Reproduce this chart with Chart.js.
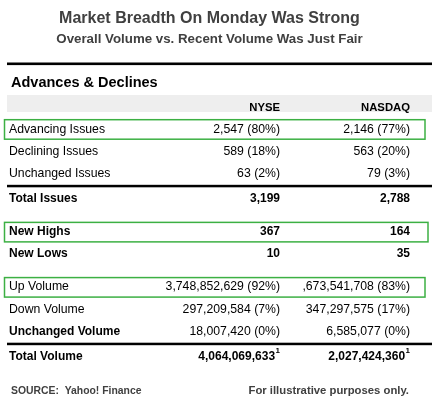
<!DOCTYPE html>
<html>
<head>
<meta charset="utf-8">
<script src="https://cdn.jsdelivr.net/npm/chart.js@4.4.1/dist/chart.umd.min.js"></script>
<style>
  html, body { margin: 0; padding: 0; background: #ffffff; width: 432px; height: 411px; overflow: hidden; }
  canvas { display: block; }
</style>
</head>
<body>
<canvas id="c" width="432" height="411" style="width:432px;height:411px"></canvas>
<script>
// ---------- data ----------
const chartTitle = 'Market Breadth On Monday Was Strong';
const chartSubtitle = 'Overall Volume vs. Recent Volume Was Just Fair';
const sectionTitle = 'Advances & Declines';
const columns = ['NYSE', 'NASDAQ'];
const rowLabels = [
  'Advancing Issues', 'Declining Issues', 'Unchanged Issues', 'Total Issues',
  'New Highs', 'New Lows',
  'Up Volume', 'Down Volume', 'Unchanged Volume', 'Total Volume'
];
// what separates each row from the one above it
const rowBreaks = ['', '', '', 'rule', 'space', '', 'space', '', '', 'rule'];
const nyseCounts = [2547, 589, 63, 3199, 367, 10, 3748852629, 297209584, 18007420, 4064069633];
const nysePercents = [80, 18, 2, null, null, null, 92, 7, 0, null];
const nasdaqCounts = [2146, 563, 79, 2788, 164, 35, 1673541708, 347297575, 6585077, 2027424360];
const nasdaqPercents = [77, 20, 3, null, null, null, 83, 17, 0, null];
const footnotes = [null, null, null, null, null, null, null, null, null, '1'];
const boldLabelRows = ['Total Issues', 'New Highs', 'New Lows', 'Unchanged Volume', 'Total Volume'];
const boldValueRows = ['Total Issues', 'New Highs', 'New Lows', 'Total Volume'];
const highlightedRows = ['Advancing Issues', 'New Highs', 'Up Volume'];
const sourceNote = 'SOURCE:  Yahoo! Finance';
const disclaimer = 'For illustrative purposes only.';

// ---------- styles ----------
const FONT = '"Liberation Sans", Arial, Helvetica, sans-serif';
const GREEN = '#3cb043';
const TITLE_GREY = '#404040';
const wideHighlight = { 'New Highs': 428 };

// row positions (in row units) derived from the row structure
const rowPos = [];
(function () {
  let u = 0;
  rowBreaks.forEach((b, i) => {
    if (i > 0) u += 1 + (b === 'rule' ? 0.15 : b === 'space' ? 0.5 : 0);
    rowPos.push(u);
  });
})();

function fmt(n, p) {
  return n.toLocaleString('en-US') + (p === null ? '' : ' (' + p + '%)');
}

const tablePlugin = {
  id: 'tableDecor',
  beforeDraw(chart) {
    const ctx = chart.ctx;
    ctx.save();
    ctx.fillStyle = '#ffffff';
    ctx.fillRect(0, 0, chart.width, chart.height);
    ctx.fillStyle = '#000000';
    ctx.fillRect(7, 62.5, 425, 2.6);
    ctx.font = 'bold 14.5px ' + FONT;
    ctx.textAlign = 'left';
    ctx.textBaseline = 'middle';
    ctx.fillText(sectionTitle, 11, 82.7);
    ctx.fillStyle = '#eeeeee';
    ctx.fillRect(7, 95, 425, 17);
    ctx.restore();
  },
  afterDatasetsDraw(chart) {
    const ctx = chart.ctx;
    const yScale = chart.scales.y;
    ctx.save();
    // rules between groups
    ctx.fillStyle = '#000000';
    rowBreaks.forEach((b, i) => {
      if (b === 'rule') {
        const y = yScale.getPixelForValue((rowPos[i] + rowPos[i - 1]) / 2);
        ctx.fillRect(7, y - 1.25, 425, 2.5);
      }
    });
    // highlight boxes
    ctx.strokeStyle = GREEN;
    ctx.lineWidth = 1.5;
    highlightedRows.forEach(name => {
      const i = rowLabels.indexOf(name);
      const y = yScale.getPixelForValue(rowPos[i]);
      const right = wideHighlight[name] || 425;
      ctx.strokeRect(4.5, y - 9.5, right - 4.5, 19.5);
    });
    // cell values
    chart.data.datasets.forEach((ds, d) => {
      const meta = chart.getDatasetMeta(d);
      meta.data.forEach((el, i) => {
        const bold = boldValueRows.includes(rowLabels[i]);
        const text = fmt(ds.counts[i], ds.percents[i]);
        ctx.save();
        if (ds.clipWidth) {
          ctx.beginPath();
          ctx.rect(el.x - ds.clipWidth, el.y - 12, ds.clipWidth + 20, 24);
          ctx.clip();
        }
        ctx.fillStyle = '#000000';
        ctx.textBaseline = 'middle';
        ctx.textAlign = 'right';
        let right = el.x;
        if (footnotes[i]) {
          ctx.font = 'bold 8px ' + FONT;
          const w = ctx.measureText(footnotes[i]).width;
          ctx.textAlign = 'left';
          ctx.fillText(footnotes[i], right - w, el.y - 6);
          right -= w + 0.5;
          ctx.textAlign = 'right';
        }
        ctx.font = (bold ? 'bold 12px ' : '12.25px ') + FONT;
        ctx.fillText(text, right, el.y);
        ctx.restore();
      });
    });
    ctx.restore();
  },
  afterDraw(chart) {
    const ctx = chart.ctx;
    ctx.save();
    ctx.fillStyle = TITLE_GREY;
    ctx.textBaseline = 'middle';
    ctx.font = 'bold 10.4px ' + FONT;
    ctx.textAlign = 'left';
    ctx.fillText(sourceNote, 11, 391);
    ctx.font = 'bold 11.3px ' + FONT;
    ctx.textAlign = 'right';
    ctx.fillText(disclaimer, 409, 391);
    ctx.restore();
  }
};

new Chart(document.getElementById('c'), {
  type: 'line',
  data: {
    labels: columns,
    datasets: [
      { label: columns[0], data: rowPos.map(y => ({ x: columns[0], y })), counts: nyseCounts, percents: nysePercents,
        showLine: false, pointRadius: 0, pointHoverRadius: 0 },
      { label: columns[1], data: rowPos.map(y => ({ x: columns[1], y })), counts: nasdaqCounts, percents: nasdaqPercents,
        clipWidth: 107.5, showLine: false, pointRadius: 0, pointHoverRadius: 0 }
    ]
  },
  options: {
    responsive: false,
    animation: false,
    events: [],
    layout: { padding: { left: 9, right: 22, top: 0, bottom: 40 } },
    plugins: {
      legend: { display: false },
      tooltip: { enabled: false },
      title: {
        display: true, text: chartTitle, color: TITLE_GREY,
        font: { family: FONT, size: 16, weight: 'bold' },
        padding: { top: 8.7, bottom: 0 }
      },
      subtitle: {
        display: true, text: chartSubtitle, color: TITLE_GREY,
        font: { family: FONT, size: 13.3, weight: 'bold' },
        padding: { top: 3.4, bottom: 50 }
      }
    },
    scales: {
      x: {
        type: 'category',
        position: 'top',
        offset: false,
        grid: { display: false, drawTicks: false },
        border: { display: false },
        ticks: {
          align: 'end', padding: 4, maxRotation: 0, autoSkip: false, color: '#000000',
          font: { family: FONT, size: 11.3, weight: 'bold' }
        }
      },
      y: {
        type: 'linear',
        reverse: true,
        min: -0.47,
        max: 10.95,
        grid: { display: false, drawTicks: false },
        border: { display: false },
        afterBuildTicks(scale) { scale.ticks = rowPos.map(v => ({ value: v })); },
        afterFit(scale) { scale.width = 271; },
        ticks: {
          autoSkip: false,
          crossAlign: 'far',
          padding: 0,
          color: '#000000',
          callback: (value, index) => rowLabels[index],
          font: (ctx) => {
            const bold = boldLabelRows.includes(rowLabels[ctx.index]);
            return { family: FONT, size: bold ? 12 : 12.25, weight: bold ? 'bold' : 'normal' };
          }
        }
      }
    }
  },
  plugins: [tablePlugin]
});
</script>
</body>
</html>
